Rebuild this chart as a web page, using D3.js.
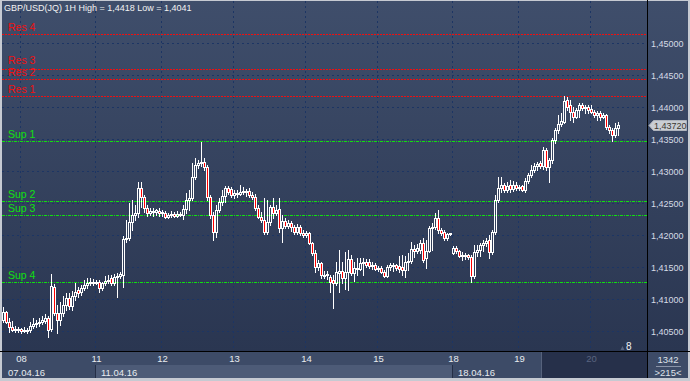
<!DOCTYPE html>
<html><head><meta charset="utf-8">
<script src="https://cdn.jsdelivr.net/npm/d3@7"></script>
<style>
html,body{margin:0;padding:0;background:#c6cad2;overflow:hidden}
svg{display:block}
text{font-family:"Liberation Sans",Arial,sans-serif}
</style></head><body>
<svg id="c" width="690" height="381"></svg>
<script>
// ---- data (hourly candles) ----
const opens=[
1.4068,1.4080,1.4065,1.4057,1.4052,1.4054,1.4054,1.4050,1.4052,1.4052,
1.4058,1.4061,1.4063,1.4065,1.4066,1.4071,1.4054,1.4119,1.4079,1.4068,
1.4079,1.4091,1.4102,1.4090,1.4105,1.4115,1.4112,1.4118,1.4122,1.4126,
1.4127,1.4126,1.4127,1.4118,1.4126,1.4129,1.4133,1.4126,1.4135,1.4136,
1.4138,1.4194,1.4196,1.4221,1.4232,1.4235,1.4274,1.4260,1.4243,1.4235,
1.4238,1.4237,1.4238,1.4235,1.4235,1.4229,1.4232,1.4233,1.4230,1.4233,
1.4232,1.4241,1.4255,1.4258,1.4291,1.4310,1.4313,1.4315,1.4307,1.4260,
1.4232,1.4205,1.4240,1.4252,1.4261,1.4274,1.4272,1.4263,1.4266,1.4265,
1.4268,1.4269,1.4269,1.4263,1.4260,1.4243,1.4229,1.4224,1.4205,1.4221,
1.4244,1.4235,1.4241,1.4211,1.4222,1.4215,1.4219,1.4213,1.4205,1.4213,
1.4204,1.4200,1.4204,1.4188,1.4172,1.4150,1.4157,1.4136,1.4138,1.4135,
1.4130,1.4126,1.4141,1.4144,1.4133,1.4143,1.4163,1.4141,1.4149,1.4147,
1.4157,1.4158,1.4158,1.4152,1.4154,1.4147,1.4149,1.4143,1.4136,1.4150,
1.4154,1.4154,1.4152,1.4150,1.4146,1.4158,1.4160,1.4179,1.4176,1.4177,
1.4188,1.4165,1.4176,1.4211,1.4213,1.4227,1.4208,1.4205,1.4196,1.4202,
1.4172,1.4180,1.4176,1.4168,1.4168,1.4169,1.4166,1.4136,1.4174,1.4177,
1.4185,1.4188,1.4193,1.4174,1.4205,1.4255,1.4274,1.4279,1.4271,1.4279,
1.4272,1.4279,1.4274,1.4277,1.4271,1.4285,1.4294,1.4302,1.4308,1.4313,
1.4308,1.4333,1.4307,1.4318,1.4349,1.4365,1.4374,1.4377,1.4411,1.4404,
1.4393,1.4385,1.4396,1.4404,1.4399,1.4400,1.4397,1.4393,1.4388,1.4391,
1.4385,1.4388,1.4369,1.4365,1.4357,1.4368];
const highs=[
1.4088,1.4082,1.4071,1.4066,1.4058,1.4057,1.4055,1.4057,1.4055,1.4065,
1.4071,1.4068,1.4071,1.4074,1.4077,1.4074,1.4140,1.4124,1.4091,1.4096,
1.4105,1.4110,1.4110,1.4113,1.4126,1.4119,1.4122,1.4130,1.4133,1.4133,
1.4132,1.4130,1.4130,1.4127,1.4136,1.4138,1.4138,1.4140,1.4141,1.4143,
1.4199,1.4224,1.4250,1.4255,1.4247,1.4283,1.4283,1.4263,1.4247,1.4243,
1.4243,1.4241,1.4243,1.4240,1.4238,1.4235,1.4238,1.4237,1.4238,1.4237,
1.4247,1.4266,1.4271,1.4313,1.4321,1.4318,1.4346,1.4321,1.4310,1.4263,
1.4237,1.4247,1.4258,1.4271,1.4277,1.4277,1.4275,1.4271,1.4271,1.4279,
1.4275,1.4272,1.4274,1.4268,1.4265,1.4247,1.4237,1.4258,1.4255,1.4247,
1.4258,1.4247,1.4258,1.4232,1.4227,1.4224,1.4222,1.4216,1.4218,1.4216,
1.4208,1.4207,1.4205,1.4190,1.4177,1.4161,1.4158,1.4144,1.4144,1.4138,
1.4138,1.4158,1.4177,1.4158,1.4174,1.4177,1.4169,1.4158,1.4165,1.4165,
1.4165,1.4163,1.4163,1.4158,1.4157,1.4152,1.4152,1.4146,1.4154,1.4157,
1.4157,1.4155,1.4168,1.4169,1.4168,1.4172,1.4190,1.4185,1.4186,1.4193,
1.4196,1.4193,1.4215,1.4219,1.4235,1.4240,1.4211,1.4208,1.4204,1.4204,
1.4183,1.4183,1.4177,1.4174,1.4172,1.4171,1.4169,1.4185,1.4185,1.4188,
1.4193,1.4196,1.4200,1.4208,1.4263,1.4291,1.4291,1.4282,1.4283,1.4286,
1.4285,1.4283,1.4279,1.4279,1.4290,1.4297,1.4310,1.4313,1.4315,1.4316,
1.4338,1.4336,1.4321,1.4352,1.4368,1.4388,1.4391,1.4418,1.4416,1.4411,
1.4400,1.4399,1.4407,1.4407,1.4404,1.4404,1.4404,1.4396,1.4394,1.4394,
1.4391,1.4390,1.4372,1.4368,1.4376,1.4377];
const lows=[
1.4065,1.4063,1.4049,1.4050,1.4049,1.4049,1.4047,1.4049,1.4047,1.4049,
1.4055,1.4057,1.4058,1.4061,1.4063,1.4041,1.4050,1.4075,1.4047,1.4060,
1.4074,1.4083,1.4085,1.4083,1.4099,1.4104,1.4107,1.4115,1.4118,1.4122,
1.4122,1.4124,1.4112,1.4115,1.4122,1.4126,1.4122,1.4122,1.4104,1.4133,
1.4119,1.4190,1.4193,1.4208,1.4224,1.4229,1.4244,1.4237,1.4230,1.4232,
1.4230,1.4232,1.4230,1.4230,1.4227,1.4227,1.4229,1.4229,1.4229,1.4230,
1.4226,1.4235,1.4240,1.4255,1.4288,1.4305,1.4308,1.4302,1.4255,1.4227,
1.4193,1.4197,1.4237,1.4247,1.4252,1.4265,1.4260,1.4258,1.4260,1.4263,
1.4265,1.4261,1.4260,1.4257,1.4240,1.4227,1.4221,1.4202,1.4202,1.4216,
1.4227,1.4232,1.4205,1.4190,1.4211,1.4211,1.4207,1.4202,1.4202,1.4200,
1.4197,1.4197,1.4186,1.4169,1.4143,1.4146,1.4133,1.4133,1.4132,1.4112,
1.4086,1.4122,1.4112,1.4126,1.4116,1.4115,1.4138,1.4129,1.4138,1.4146,
1.4138,1.4150,1.4149,1.4147,1.4146,1.4144,1.4141,1.4135,1.4135,1.4146,
1.4144,1.4146,1.4143,1.4138,1.4135,1.4146,1.4157,1.4166,1.4172,1.4172,
1.4158,1.4149,1.4174,1.4177,1.4210,1.4204,1.4200,1.4193,1.4193,1.4200,
1.4171,1.4172,1.4166,1.4161,1.4163,1.4163,1.4127,1.4133,1.4168,1.4168,
1.4176,1.4183,1.4165,1.4171,1.4202,1.4252,1.4268,1.4268,1.4268,1.4268,
1.4269,1.4271,1.4271,1.4269,1.4268,1.4282,1.4291,1.4299,1.4302,1.4305,
1.4304,1.4302,1.4283,1.4313,1.4344,1.4360,1.4371,1.4376,1.4396,1.4380,
1.4377,1.4383,1.4385,1.4396,1.4391,1.4391,1.4391,1.4385,1.4380,1.4380,
1.4383,1.4366,1.4360,1.4347,1.4354,1.4357];
const closes=[
1.4080,1.4065,1.4057,1.4052,1.4054,1.4052,1.4050,1.4052,1.4050,1.4058,
1.4061,1.4063,1.4065,1.4068,1.4071,1.4052,1.4121,1.4079,1.4068,1.4079,
1.4091,1.4102,1.4090,1.4105,1.4112,1.4110,1.4118,1.4122,1.4126,1.4127,
1.4126,1.4127,1.4118,1.4126,1.4129,1.4130,1.4126,1.4135,1.4136,1.4140,
1.4194,1.4196,1.4221,1.4232,1.4235,1.4274,1.4260,1.4243,1.4235,1.4238,
1.4237,1.4240,1.4235,1.4236,1.4229,1.4232,1.4233,1.4230,1.4233,1.4232,
1.4241,1.4255,1.4258,1.4291,1.4310,1.4313,1.4315,1.4307,1.4260,1.4232,
1.4205,1.4240,1.4252,1.4261,1.4274,1.4268,1.4263,1.4266,1.4265,1.4268,
1.4269,1.4268,1.4263,1.4260,1.4243,1.4229,1.4224,1.4205,1.4221,1.4244,
1.4235,1.4240,1.4211,1.4222,1.4215,1.4219,1.4213,1.4205,1.4213,1.4204,
1.4200,1.4204,1.4188,1.4172,1.4150,1.4157,1.4138,1.4138,1.4140,1.4127,
1.4126,1.4143,1.4144,1.4133,1.4143,1.4163,1.4141,1.4149,1.4147,1.4157,
1.4158,1.4154,1.4152,1.4154,1.4147,1.4149,1.4143,1.4136,1.4150,1.4154,
1.4152,1.4149,1.4147,1.4146,1.4158,1.4160,1.4179,1.4176,1.4180,1.4188,
1.4161,1.4176,1.4211,1.4213,1.4227,1.4208,1.4204,1.4196,1.4202,1.4203,
1.4180,1.4176,1.4168,1.4169,1.4169,1.4166,1.4136,1.4174,1.4177,1.4185,
1.4188,1.4191,1.4174,1.4205,1.4255,1.4274,1.4279,1.4271,1.4277,1.4272,
1.4279,1.4274,1.4276,1.4271,1.4285,1.4294,1.4302,1.4308,1.4311,1.4308,
1.4333,1.4307,1.4318,1.4349,1.4365,1.4374,1.4379,1.4410,1.4400,1.4393,
1.4385,1.4396,1.4404,1.4399,1.4400,1.4396,1.4393,1.4388,1.4391,1.4385,
1.4388,1.4369,1.4365,1.4357,1.4368,1.4372];

const dayTicks=[6,31,53,77,101,125,150,172,196];
const dayLabels=["08","11","12","13","14","15","18","19","20"];
const weekStarts=[0,31,150];
const weekLabels=["07.04.16","11.04.16","18.04.16"];
const priceTicks=[1.405,1.410,1.415,1.420,1.425,1.430,1.435,1.440,1.445,1.450];
const levelNames=["Res 4","Res 3","Res 2","Res 1","Sup 1","Sup 2","Sup 3","Sup 4"];
const levelValues=[1.4515,1.4460,1.4445,1.4417,1.4347,1.4254,1.4232,1.4127];
const symbol="GBP/USD(JQ) 1H";
const totalBars="1342", visibleSlots=215, cornerCount="8";
const shadeFromIndex=180;

// ---- layout ----
const W=690,H=381, L=2, R=647, T=1, B=351;
const svg=d3.select("#c");
const defs=svg.append("defs");
const gr=defs.append("linearGradient").attr("id","bg").attr("x1",0).attr("y1",0).attr("x2",0).attr("y2",1);
gr.append("stop").attr("offset","0%").attr("stop-color","#3f4e6b");
gr.append("stop").attr("offset","100%").attr("stop-color","#2a3651");

const x=d3.scaleBand().domain(d3.range(visibleSlots)).range([L,R]).padding(0);
const y=d3.scaleLinear().domain([1.40,1.45]).range([363.3,43.3]);
const fmt5=d=>d.toFixed(5).replace(".",",");
const fmt4=d=>d.toFixed(4).replace(".",",");

svg.append("rect").attr("width",W).attr("height",H).attr("fill","#c6cad2");
svg.append("rect").attr("x",L).attr("y",T).attr("width",688-L).attr("height",B-T).attr("fill","url(#bg)");

// grid
const grid=svg.append("g").attr("stroke","#1c3564").attr("stroke-width",1).attr("stroke-dasharray","2,3");
grid.selectAll("line.h").data(priceTicks).join("line").attr("class","h")
  .attr("x1",L).attr("x2",R).attr("y1",d=>Math.round(y(d))+0.5).attr("y2",d=>Math.round(y(d))+0.5);
grid.selectAll("line.v").data(dayTicks).join("line").attr("class","v")
  .attr("x1",d=>x(d)+0.5).attr("x2",d=>x(d)+0.5).attr("y1",T).attr("y2",B);

// levels
const lv=svg.append("g");
levelValues.forEach((v,i)=>{
  const isRes=levelNames[i].startsWith("Res");
  const col=isRes?"#f01010":"#10e010";
  const yy=Math.round(y(v))+0.5;
  lv.append("line").attr("x1",L).attr("x2",R).attr("y1",yy).attr("y2",yy)
    .attr("stroke",col).attr("stroke-dasharray",isRes?"2,1":"3,1,1,1");
  // Res 3 sits just above Res 2: nudge its label up so the two don't collide
  const dy=levelNames[i]==="Res 3"?-6:-4;
  lv.append("text").attr("x",8).attr("y",yy+dy).attr("fill",col).attr("font-size",10.5).text(levelNames[i]);
});

// candles
const cg=svg.append("g");
closes.forEach((c,i)=>{
  const o=opens[i], cx=x(i)+1.5;
  const top=Math.round(y(Math.max(o,c))), bot=Math.max(Math.round(y(Math.min(o,c))),top+1);
  const yh=Math.round(y(highs[i])), yl=Math.round(y(lows[i]));
  const down=c<o;
  if(yh<top) cg.append("line").attr("x1",cx).attr("x2",cx).attr("y1",yh).attr("y2",top).attr("stroke","#fff");
  if(yl>bot) cg.append("line").attr("x1",cx).attr("x2",cx).attr("y1",bot+1).attr("y2",yl+1).attr("stroke","#fff");
  cg.append("rect").attr("x",cx-1).attr("y",top+0.5).attr("width",2).attr("height",bot-top)
    .attr("fill",down?"#ff0000":"none").attr("stroke","#fff").attr("stroke-width",1);
});

// title
svg.append("text").attr("x",4).attr("y",11).attr("font-size",9).attr("fill","#f2f2f2")
  .text(`${symbol} High = ${fmt4(d3.max(highs))} Low = ${fmt4(d3.min(lows))}`);

// corner count marker
svg.append("path").attr("d","M620.5,350 L622.5,346 L624.5,350 Z").attr("fill","#5a6680");
svg.append("text").attr("x",626).attr("y",350).attr("font-size",10).attr("fill","#f2f2f2").text(cornerCount);

// right axis
svg.append("line").attr("x1",647.5).attr("x2",647.5).attr("y1",0).attr("y2",378).attr("stroke","#000");
const ya=svg.append("g").attr("transform","translate(648,0)")
  .call(d3.axisRight(y).tickValues(priceTicks).tickSize(0).tickPadding(3).tickFormat(fmt5));
ya.select(".domain").remove();
ya.selectAll("text").attr("fill","#d6dce6").attr("font-size",9).attr("font-family","Liberation Sans, Arial, sans-serif");

// last price tag
const lastPrice=closes[closes.length-1];
const ly=Math.round(y(lastPrice))+0.5;
svg.append("path").attr("d",`M649,${ly} L653.5,${ly-5} L686.5,${ly-5} L686.5,${ly+5} L653.5,${ly+5} Z`)
  .attr("fill","#c9cdd4").attr("stroke","#aeb3bd");
svg.append("text").attr("x",654).attr("y",ly+3.5).attr("font-size",9).attr("fill","#3a3630").text(fmt5(lastPrice));

// bottom axis rows
svg.append("rect").attr("x",L).attr("y",352).attr("width",R-L).attr("height",26).attr("fill","#3d4b67");
const wk=svg.append("g");
weekStarts.forEach((s,i)=>{
  const x0=x(s), x1=i<weekStarts.length-1?x(weekStarts[i+1]):x(shadeFromIndex);
  wk.append("rect").attr("x",x0).attr("y",365).attr("width",x1-x0).attr("height",13).attr("fill",i%2? "#4d5b77":"#3d4b67");
  if(i>0) wk.append("line").attr("x1",x0+0.5).attr("x2",x0+0.5).attr("y1",365).attr("y2",378).attr("stroke","#242e46");
  wk.append("text").attr("x",x0+6).attr("y",375.5).attr("font-size",9.5).attr("fill","#e8ebf0").text(weekLabels[i]);
});
svg.append("rect").attr("x",x(shadeFromIndex)).attr("y",352).attr("width",R-x(shadeFromIndex)).attr("height",26).attr("fill","#26304a");
svg.append("line").attr("x1",x(shadeFromIndex)-0.5).attr("x2",x(shadeFromIndex)-0.5).attr("y1",352).attr("y2",378).attr("stroke","#56627c");

const xa=svg.append("g").attr("transform","translate(0,352)")
  .call(d3.axisBottom(x).tickValues(dayTicks).tickSize(0).tickPadding(3).tickFormat((d,i)=>dayLabels[i]));
xa.select(".domain").remove();
xa.selectAll("text").attr("font-size",9.5).attr("font-family","Liberation Sans, Arial, sans-serif")
  .attr("fill",d=>d>=shadeFromIndex?"#5a6580":"#e8ebf0");

svg.append("line").attr("x1",0).attr("x2",690).attr("y1",351.5).attr("y2",351.5).attr("stroke","#000");

// right-bottom info box
svg.append("rect").attr("x",648).attr("y",352).attr("width",40).attr("height",26).attr("fill","#3d4b67");
svg.append("text").attr("x",668).attr("y",363).attr("text-anchor","middle").attr("font-size",9.5).attr("fill","#dde2ea").text(totalBars);
svg.append("line").attr("x1",656).attr("x2",681).attr("y1",366.5).attr("y2",366.5).attr("stroke","#8a94a8");
svg.append("text").attr("x",668).attr("y",376).attr("text-anchor","middle").attr("font-size",9.5).attr("fill","#dde2ea").text(`>${visibleSlots}<`);
</script></body></html>
